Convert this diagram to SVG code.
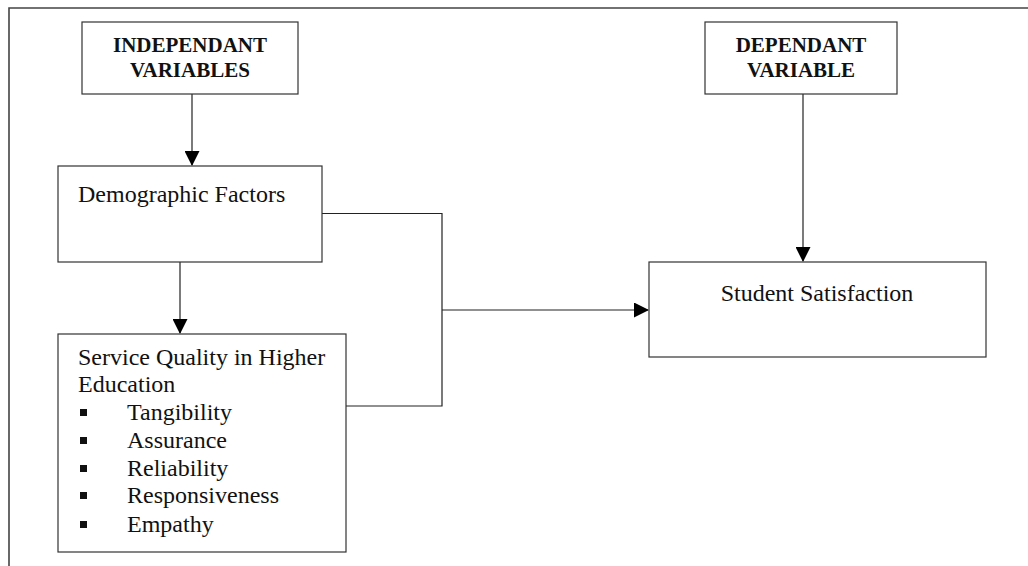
<svg xmlns="http://www.w3.org/2000/svg" width="1028" height="566" viewBox="0 0 1028 566">
<style>
.box{fill:#fff;stroke:#333;stroke-width:1.2}
.conn{fill:none;stroke:#222;stroke-width:1.2}
.hd{font-family:"Liberation Serif",serif;font-weight:bold;font-size:21px;fill:#111;text-anchor:middle}
.tx{font-family:"Liberation Serif",serif;font-size:24px;fill:#111}
.bul{fill:#111}
</style>
<defs>
<marker id="ah" markerWidth="15" markerHeight="15" refX="14" refY="7.5" orient="auto" markerUnits="userSpaceOnUse">
<path d="M0,0 L15,7.5 L0,15 Z" fill="#000"/>
</marker>
</defs>
<rect width="1028" height="566" fill="#fff"/>
<g id="frame">
<path d="M9,566 V8 H1028" fill="none" stroke="#444" stroke-width="1.6"/>
</g>
<g id="connectors">
<line class="conn" x1="192" y1="94" x2="192" y2="165" marker-end="url(#ah)"/>
<line class="conn" x1="180" y1="260" x2="180" y2="333" marker-end="url(#ah)"/>
<line class="conn" x1="803" y1="94" x2="803" y2="261" marker-end="url(#ah)"/>
<path class="conn" d="M322,213.5 H442 V406 H346"/>
<line class="conn" x1="442" y1="310" x2="648" y2="310" marker-end="url(#ah)"/>
</g>
<g id="indep">
<rect class="box" x="82" y="22" width="216" height="72"/>
<text class="hd" x="190" y="52">INDEPENDANT</text>
<text class="hd" x="190" y="77">VARIABLES</text>
</g>
<g id="dep">
<rect class="box" x="705" y="22" width="192" height="72"/>
<text class="hd" x="801" y="52">DEPENDANT</text>
<text class="hd" x="801" y="77">VARIABLE</text>
</g>
<g id="demo">
<rect class="box" x="58" y="166" width="264" height="96"/>
<text class="tx" x="78" y="202">Demographic Factors</text>
</g>
<g id="sq">
<rect class="box" x="58" y="334" width="288" height="218"/>
<text class="tx" x="78" y="365">Service Quality in Higher</text>
<text class="tx" x="78" y="392">Education</text>
<rect class="bul" x="80" y="409" width="7" height="7"/>
<text class="tx" x="127" y="420">Tangibility</text>
<rect class="bul" x="80" y="437" width="7" height="7"/>
<text class="tx" x="127" y="448">Assurance</text>
<rect class="bul" x="80" y="465" width="7" height="7"/>
<text class="tx" x="127" y="476">Reliability</text>
<rect class="bul" x="80" y="492" width="7" height="7"/>
<text class="tx" x="127" y="503">Responsiveness</text>
<rect class="bul" x="80" y="521" width="7" height="7"/>
<text class="tx" x="127" y="532">Empathy</text>
</g>
<g id="student">
<rect class="box" x="649" y="262" width="337" height="95"/>
<text class="tx" x="817" y="301" text-anchor="middle">Student Satisfaction</text>
</g>
</svg>
